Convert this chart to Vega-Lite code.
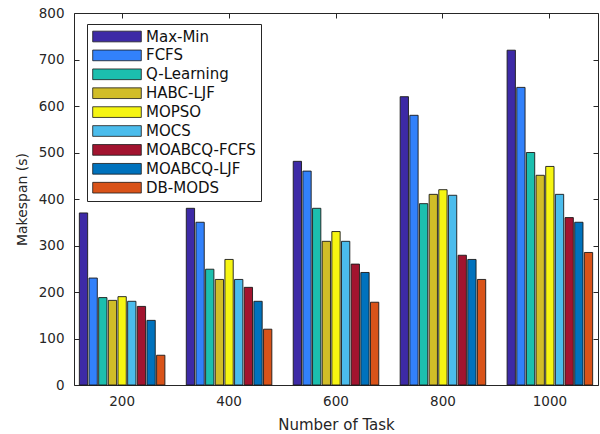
{
  "$schema": "https://vega.github.io/schema/vega-lite/v6.json",
  "width": 524,
  "height": 372,
  "autosize": "none",
  "padding": {"left": 74, "top": 13, "right": 2, "bottom": 49},
  "background": "white",
  "config": {
    "font": "DejaVu Sans",
    "view": {"stroke": "#262626", "strokeWidth": 1},
    "axis": {
      "grid": false,
      "domainColor": "#262626",
      "tickColor": "#262626",
      "labelColor": "#262626",
      "titleColor": "#262626",
      "labelFontSize": 13.5,
      "titleFontSize": 15,
      "titleFontWeight": "normal"
    },
    "legend": {
      "orient": "none",
      "legendX": 13,
      "legendY": 11,
      "padding": 5,
      "strokeColor": "#262626",
      "fillColor": "white",
      "labelFontSize": 15,
      "labelColor": "#111111",
      "labelOffset": 4,
      "symbolType": "M-1,-0.22H1V0.22H-1Z",
      "symbolSize": 2362,
      "symbolStrokeColor": "#1a1a1a",
      "symbolStrokeWidth": 0.8,
      "symbolFillOpacity": 1,
      "clipHeight": 15,
      "rowPadding": 2.9
    }
  },
  "data": {
    "values": [
      {"task": 200, "algorithm": "Max-Min", "makespan": 370},
      {"task": 200, "algorithm": "FCFS", "makespan": 230},
      {"task": 200, "algorithm": "Q-Learning", "makespan": 188},
      {"task": 200, "algorithm": "HABC-LJF", "makespan": 182},
      {"task": 200, "algorithm": "MOPSO", "makespan": 190},
      {"task": 200, "algorithm": "MOCS", "makespan": 180},
      {"task": 200, "algorithm": "MOABCQ-FCFS", "makespan": 169},
      {"task": 200, "algorithm": "MOABCQ-LJF", "makespan": 139},
      {"task": 200, "algorithm": "DB-MODS", "makespan": 64},
      {"task": 400, "algorithm": "Max-Min", "makespan": 380},
      {"task": 400, "algorithm": "FCFS", "makespan": 350},
      {"task": 400, "algorithm": "Q-Learning", "makespan": 249},
      {"task": 400, "algorithm": "HABC-LJF", "makespan": 227},
      {"task": 400, "algorithm": "MOPSO", "makespan": 270},
      {"task": 400, "algorithm": "MOCS", "makespan": 227},
      {"task": 400, "algorithm": "MOABCQ-FCFS", "makespan": 210},
      {"task": 400, "algorithm": "MOABCQ-LJF", "makespan": 180},
      {"task": 400, "algorithm": "DB-MODS", "makespan": 120},
      {"task": 600, "algorithm": "Max-Min", "makespan": 481},
      {"task": 600, "algorithm": "FCFS", "makespan": 460},
      {"task": 600, "algorithm": "Q-Learning", "makespan": 380},
      {"task": 600, "algorithm": "HABC-LJF", "makespan": 309},
      {"task": 600, "algorithm": "MOPSO", "makespan": 330},
      {"task": 600, "algorithm": "MOCS", "makespan": 309},
      {"task": 600, "algorithm": "MOABCQ-FCFS", "makespan": 260},
      {"task": 600, "algorithm": "MOABCQ-LJF", "makespan": 242},
      {"task": 600, "algorithm": "DB-MODS", "makespan": 178},
      {"task": 800, "algorithm": "Max-Min", "makespan": 620},
      {"task": 800, "algorithm": "FCFS", "makespan": 580},
      {"task": 800, "algorithm": "Q-Learning", "makespan": 390},
      {"task": 800, "algorithm": "HABC-LJF", "makespan": 410},
      {"task": 800, "algorithm": "MOPSO", "makespan": 420},
      {"task": 800, "algorithm": "MOCS", "makespan": 408},
      {"task": 800, "algorithm": "MOABCQ-FCFS", "makespan": 279},
      {"task": 800, "algorithm": "MOABCQ-LJF", "makespan": 270},
      {"task": 800, "algorithm": "DB-MODS", "makespan": 227},
      {"task": 1000, "algorithm": "Max-Min", "makespan": 720},
      {"task": 1000, "algorithm": "FCFS", "makespan": 640},
      {"task": 1000, "algorithm": "Q-Learning", "makespan": 500},
      {"task": 1000, "algorithm": "HABC-LJF", "makespan": 451},
      {"task": 1000, "algorithm": "MOPSO", "makespan": 470},
      {"task": 1000, "algorithm": "MOCS", "makespan": 410},
      {"task": 1000, "algorithm": "MOABCQ-FCFS", "makespan": 360},
      {"task": 1000, "algorithm": "MOABCQ-LJF", "makespan": 350},
      {"task": 1000, "algorithm": "DB-MODS", "makespan": 285}
    ]
  },
  "layer": [
    {
      "mark": {"type": "bar", "stroke": "#1a1a1a", "strokeWidth": 0.9},
      "encoding": {
        "x": {
          "field": "task",
          "type": "ordinal",
          "title": "Number of Task",
          "scale": {"paddingInner": 0.2, "paddingOuter": 0.05},
          "axis": {
            "labelAngle": 0,
            "tickSize": -5,
            "labelPadding": 14,
            "domain": false,
            "titleX": 262,
            "titleY": 39,
            "titleBaseline": "middle",
            "titleFontSize": 15
          }
        },
        "xOffset": {
          "field": "algorithm",
          "type": "nominal",
          "sort": ["Max-Min", "FCFS", "Q-Learning", "HABC-LJF", "MOPSO", "MOCS", "MOABCQ-FCFS", "MOABCQ-LJF", "DB-MODS"],
          "scale": {"paddingInner": 0.14, "paddingOuter": 0}
        },
        "y": {
          "field": "makespan",
          "type": "quantitative",
          "title": "Makespan (s)",
          "scale": {"domain": [0, 800], "nice": false},
          "axis": {
            "values": [0, 100, 200, 300, 400, 500, 600, 700, 800],
            "tickSize": -5,
            "labelPadding": 15,
            "domain": false,
            "titleX": -52,
            "titleY": 186,
            "titleAngle": -90,
            "titleAlign": "center",
            "titleBaseline": "middle",
            "titleFontSize": 14
          }
        },
        "color": {
          "field": "algorithm",
          "type": "nominal",
          "sort": ["Max-Min", "FCFS", "Q-Learning", "HABC-LJF", "MOPSO", "MOCS", "MOABCQ-FCFS", "MOABCQ-LJF", "DB-MODS"],
          "scale": {
            "domain": ["Max-Min", "FCFS", "Q-Learning", "HABC-LJF", "MOPSO", "MOCS", "MOABCQ-FCFS", "MOABCQ-LJF", "DB-MODS"],
            "range": ["#3d2aa6", "#3281fb", "#1cbfae", "#d1bd28", "#f6f512", "#4bbcec", "#a2142f", "#0072bd", "#d95319"]
          },
          "legend": {"title": null}
        }
      }
    },
    {
      "mark": {"type": "bar", "opacity": 0},
      "encoding": {
        "x": {
          "field": "task",
          "type": "ordinal",
          "axis": {"orient": "top", "labels": false, "title": null, "tickSize": -5, "domain": false}
        },
        "xOffset": {
          "field": "algorithm",
          "type": "nominal",
          "sort": ["Max-Min", "FCFS", "Q-Learning", "HABC-LJF", "MOPSO", "MOCS", "MOABCQ-FCFS", "MOABCQ-LJF", "DB-MODS"]
        },
        "y": {
          "field": "makespan",
          "type": "quantitative",
          "axis": {
            "orient": "right",
            "values": [0, 100, 200, 300, 400, 500, 600, 700, 800],
            "labels": false,
            "title": null,
            "tickSize": -5,
            "domain": false
          }
        }
      }
    }
  ],
  "resolve": {"axis": {"x": "independent", "y": "independent"}}
}
